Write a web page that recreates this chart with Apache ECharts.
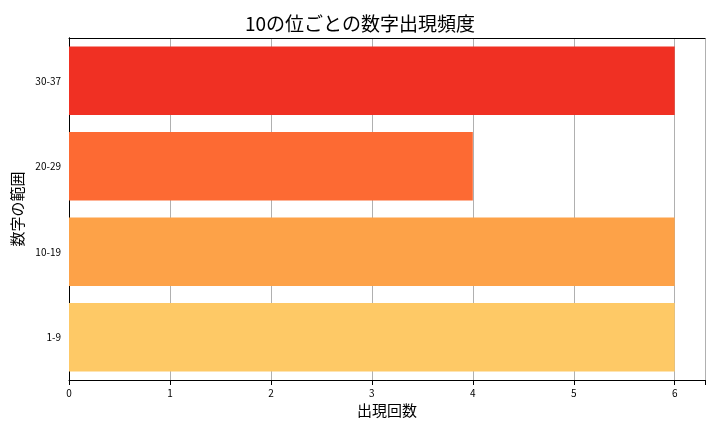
<!DOCTYPE html><html><head><meta charset="utf-8"><script src="https://cdn.jsdelivr.net/npm/echarts@6/dist/echarts.min.js"></script></head><body style="margin:0"><div id="c" style="width:720px;height:432px"></div><script>
const categories=['1-9','10-19','20-29','30-37'];
const values=[6,6,4,6];
const colors=['#fec966','#fda248','#fd6a33','#f03023'];
const xTicks=[0,1,2,3,4,5,6];
const ch=echarts.init(document.getElementById('c'));
const F='"Noto Sans CJK JP", sans-serif';
ch.setOption({
title:{text:'10の位ごとの数字出現頻度',left:'center',top:9,textStyle:{fontFamily:F,fontSize:19,fontWeight:'normal',color:'#000'}},
grid:{left:69,right:15,top:38,bottom:52},
xAxis:[{type:'value',min:0,max:6.3,interval:1,name:'出現回数',nameLocation:'middle',nameGap:22,
nameTextStyle:{fontFamily:F,fontSize:15,color:'#000'},
axisLabel:{fontFamily:F,fontSize:10,color:'#000',formatter:v=>xTicks.includes(v)?String(v):''},
axisLine:{show:true,lineStyle:{color:'#000'}},axisTick:{show:true,lineStyle:{color:'#000'}},
splitLine:{show:true,lineStyle:{color:'#b0b0b0'}}},
{type:'value',position:'top',min:0,max:6.3,interval:1,axisLabel:{show:false},axisTick:{show:false},splitLine:{show:false},axisLine:{show:true,lineStyle:{color:'#000'}}}],
yAxis:[{type:'category',data:categories,name:'数字の範囲',nameLocation:'middle',nameGap:44,
nameTextStyle:{fontFamily:F,fontSize:15,color:'#000'},
axisLabel:{fontFamily:F,fontSize:10,color:'#000'},
axisLine:{lineStyle:{color:'#000'}},axisTick:{alignWithLabel:true,lineStyle:{color:'#000'}}},
{type:'category',data:categories,position:'right',axisLabel:{show:false},axisTick:{show:false},axisLine:{show:true,lineStyle:{color:'#000'}}}],
series:[{type:'bar',barWidth:'80%',data:values.map((v,i)=>({value:v,itemStyle:{color:colors[i]}}))}]
});
</script></body></html>
